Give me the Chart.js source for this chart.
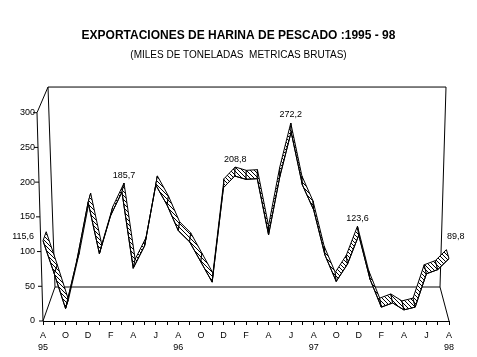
<!DOCTYPE html>
<html>
<head>
<meta charset="utf-8">
<script src="https://cdn.jsdelivr.net/npm/chart.js@4.4.1/dist/chart.umd.min.js"></script>
<style>
html,body{margin:0;padding:0;background:#fff;}
canvas{display:block;}
</style>
</head>
<body>
<canvas id="c" width="477" height="357"></canvas>
<script>
// ---- data (Aug 1995 .. Aug 1998, monthly) ----
const months = ['A','S','O','N','D','J','F','M','A','M','J','J',
                'A','S','O','N','D','J','F','M','A','M','J','J',
                'A','S','O','N','D','J','F','M','A','M','J','J','A'];
const years = ['95','96','97','98'];
const values = [115.6, 68, 18, 87, 171, 97, 152, 185.7, 76, 108, 196, 167,
                130, 114, 85, 56, 192, 208.8, 204, 205, 124, 208, 272.2, 196,
                160, 95, 57, 82, 123.6, 60, 20, 26, 16, 20, 68, 74, 89.8];
const labelledPoints = [0, 7, 17, 22, 28, 36];
const yTicks = [0, 50, 100, 150, 200, 250, 300];
const titleText = 'EXPORTACIONES DE HARINA DE PESCADO :1995 - 98';
const subtitleText = '(MILES DE TONELADAS  METRICAS BRUTAS)';

const baseFamily = '"Liberation Sans", Arial, sans-serif';
const titleFont = {family:baseFamily, size:12, weight:'bold', lineHeight:1.2};
const subFont = {family:baseFamily, size:10, weight:'normal', lineHeight:1.2};

// layout so that the plot area top lands where the 300 tick sits
const tPadTop = 36 - 0.6*titleFont.size;
const tEnd = tPadTop + titleFont.size*1.2 + 2;
const sPadTop = 55 - 0.6*subFont.size - tEnd;
const sPadBottom = 112.7 - (tEnd + sPadTop + subFont.size*1.2);

// hatch pattern
const pc = document.createElement('canvas'); pc.width = 4; pc.height = 4;
const pctx = pc.getContext('2d');
pctx.fillStyle = '#fff'; pctx.fillRect(0,0,4,4);
pctx.fillStyle = '#000'; for (let k=0;k<4;k++) pctx.fillRect(k,k,1,1);

const DEPTH = 34;       // floor depth in px (front to back wall)
const RIB = 9;          // ribbon depth in px
function geom(chart){
  const a = chart.chartArea, ys = chart.scales.y;
  const yb = ys.getPixelForValue(0), yt = ys.getPixelForValue(300);
  return {
    L:a.left, R:a.right, yb, yt,
    FTL:[a.left-6, yt], FBL:[a.left, yb], FBR:[a.right, yb],
    BBL:[a.left+12, yb-DEPTH], BBR:[a.right-9, yb-DEPTH],
    BTL:[a.left+5, yb-DEPTH-0.96*(yb-yt)], BTR:[a.right-3, yb-DEPTH-0.96*(yb-yt)]
  };
}
function ribOffset(g, x){
  const f = (x - g.L)/(g.R - g.L);
  return [3.2 - 5.8*f, -RIB];
}
function line(ctx, p, q){ ctx.beginPath(); ctx.moveTo(p[0],p[1]); ctx.lineTo(q[0],q[1]); ctx.stroke(); }

const ribbonPlugin = {
  id:'ribbon3d',
  beforeDatasetsDraw(chart){
    const ctx = chart.ctx, g = geom(chart);
    ctx.save();
    ctx.strokeStyle = '#000'; ctx.lineWidth = 1;
    line(ctx, g.FBL, g.BBL); line(ctx, g.BBL, g.BBR); line(ctx, g.FBR, g.BBR);
    line(ctx, g.BBL, g.BTL); line(ctx, g.BBR, g.BTR); line(ctx, g.BTL, g.BTR);
    line(ctx, g.FBL, g.FTL); line(ctx, g.FTL, g.BTL);
    // y tick marks along slanted front edge
    const ys = chart.scales.y;
    yTicks.forEach(v => {
      const y = ys.getPixelForValue(v);
      const x = g.L - 6*(g.yb - y)/(g.yb - g.yt);
      line(ctx, [x-4, y], [x, y]);
    });
    // ribbon
    const pts = chart.getDatasetMeta(0).data;
    const pat = ctx.createPattern(pc, 'repeat');
    for (let i=0;i<pts.length-1;i++){
      const p0=[pts[i].x, pts[i].y], p1=[pts[i+1].x, pts[i+1].y];
      const d0=ribOffset(g,p0[0]), d1=ribOffset(g,p1[0]);
      const q0=[p0[0]+d0[0], p0[1]+d0[1]], q1=[p1[0]+d1[0], p1[1]+d1[1]];
      ctx.beginPath();
      ctx.moveTo(p0[0],p0[1]); ctx.lineTo(p1[0],p1[1]); ctx.lineTo(q1[0],q1[1]); ctx.lineTo(q0[0],q0[1]); ctx.closePath();
      ctx.fillStyle = pat; ctx.fill(); ctx.stroke();
    }
    ctx.restore();
  },
  afterDatasetsDraw(chart){
    const ctx = chart.ctx, g = geom(chart);
    const pts = chart.getDatasetMeta(0).data;
    ctx.save();
    ctx.fillStyle = '#000';
    ctx.font = '9px ' + baseFamily;
    ctx.textBaseline = 'middle';
    labelledPoints.forEach(i => {
      const p = pts[i], d = ribOffset(g, p.x);
      const txt = values[i].toFixed(1).replace('.', ',');
      const by = p.y + d[1];
      if (i === 0){ ctx.textAlign = 'right'; ctx.fillText(txt, p.x - 9, by + 5); }
      else if (i === values.length-1){ ctx.textAlign = 'left'; ctx.fillText(txt, p.x - 2, by - 13); }
      else { ctx.textAlign = 'center'; ctx.fillText(txt, p.x + d[0], by - 8); }
    });
    ctx.restore();
  }
};

new Chart(document.getElementById('c'), {
  type:'line',
  data:{ labels: months, datasets:[{ data: values, borderColor:'#000', borderWidth:1, pointRadius:0, tension:0, fill:false }] },
  options:{
    responsive:false, animation:false, devicePixelRatio:1,
    layout:{ padding:{ left:0, right:0, top:0, bottom:0 } },
    plugins:{
      legend:{display:false}, tooltip:{enabled:false},
      title:{ display:true, text:titleText, color:'#000', font:titleFont, padding:{top:tPadTop, bottom:2} },
      subtitle:{ display:true, text:subtitleText, color:'#000', font:subFont, padding:{top:sPadTop, bottom:sPadBottom} }
    },
    scales:{
      x:{
        type:'category', offset:false,
        grid:{ drawOnChartArea:false, drawTicks:true, tickLength:4, color:'#000' },
        border:{ display:true, color:'#000', width:1 },
        ticks:{ autoSkip:false, maxRotation:0, minRotation:0, padding:4, color:'#000',
                font:{ size:9, family:baseFamily, lineHeight:1.35 },
                callback:(v,i) => i%2 ? '' : (i%12===0 ? [months[i], years[i/12]] : months[i]) },
        afterFit:(s) => { s.height = 36; }
      },
      y:{
        min:0, max:300,
        grid:{ drawOnChartArea:false, drawTicks:true, tickLength:6, color:'rgba(0,0,0,0)' },
        border:{ display:false },
        ticks:{ stepSize:50, padding:2, color:'#000', font:{ size:9, family:baseFamily } },
        afterFit:(s) => { s.width = 43; }
      },
      yRight:{
        position:'right', min:0, max:1, display:true,
        grid:{ display:false, drawTicks:false }, border:{ display:false },
        ticks:{ display:false },
        afterFit:(s) => { s.width = 28; }
      }
    }
  },
  plugins:[ribbonPlugin]
});
</script>
</body>
</html>
